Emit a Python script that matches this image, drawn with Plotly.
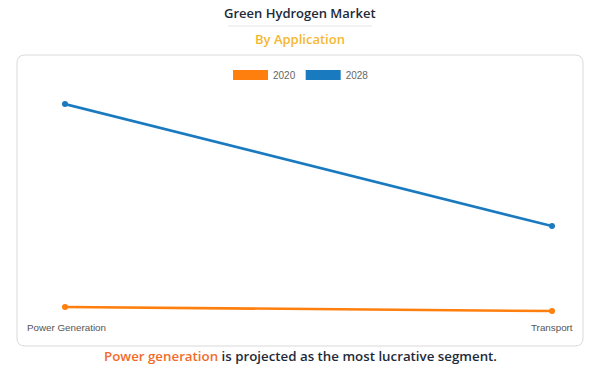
import plotly.graph_objects as go

categories = ["Power Generation", "Transport"]
series_names = ["2020", "2028"]
values_2020 = [3.1, 2.2]
values_2028 = [48, 21]
colors = ["#ff7f0e", "#1a7abf"]

W, H = 600, 373
L, R, T, B = 65, 48, 90, 52
pw, ph = W - L - R, H - T - B

def px(xp):
    return (xp - L) / pw

def py(yp):
    return (H - B - yp) / ph

fig = go.Figure()
for name, vals, col in [(series_names[0], values_2020, colors[0]), (series_names[1], values_2028, colors[1])]:
    fig.add_trace(go.Scatter(x=categories, y=vals, mode="lines+markers", name=name,
                             line=dict(color=col, width=2.6), marker=dict(size=6, color=col),
                             showlegend=False, cliponaxis=False, hoverinfo="x+y+name"))
    fig.add_trace(go.Scatter(x=[None], y=[None], mode="lines", name=name,
                             line=dict(color=col, width=11), showlegend=True))

# rounded card
x0, x1, y0, y1 = px(17), px(583), py(346), py(55)
rx, ry = 8 / pw, 8 / ph
path = (f"M {x0+rx},{y0} L {x1-rx},{y0} Q {x1},{y0} {x1},{y0+ry} L {x1},{y1-ry} "
        f"Q {x1},{y1} {x1-rx},{y1} L {x0+rx},{y1} Q {x0},{y1} {x0},{y1-ry} "
        f"L {x0},{y0+ry} Q {x0},{y0} {x0+rx},{y0} Z")
fig.add_shape(type="path", path=path, xref="paper", yref="paper",
              line=dict(color="#d9d9d9", width=1), fillcolor="rgba(0,0,0,0)", layer="below")
# title separator
fig.add_shape(type="line", xref="paper", yref="paper", x0=px(228), x1=px(372), y0=py(26), y1=py(26),
              line=dict(color="#e6e6e6", width=1))

fig.add_annotation(text="Green Hydrogen Market", xref="paper", yref="paper", x=px(300), y=py(13),
                   showarrow=False, font=dict(family="Open Sans", size=13, weight=600, color="#1d2a3a"),
                   xanchor="center", yanchor="middle")
fig.add_annotation(text="By Application", xref="paper", yref="paper", x=px(300), y=py(39),
                   showarrow=False, font=dict(family="Open Sans", size=13, weight=600, color="#f5b731"),
                   xanchor="center", yanchor="middle")
fig.add_annotation(text="<span style='color:#f26b2a'>Power generation</span> is projected as the most lucrative segment.",
                   xref="paper", yref="paper", x=px(300), y=py(356), showarrow=False,
                   font=dict(family="Open Sans", size=13.3, weight=600, color="#1d2a3a"),
                   xanchor="center", yanchor="middle")
# category labels
fig.add_annotation(text=categories[0], xref="x", yref="paper", x=categories[0], y=py(327),
                   xanchor="left", yanchor="middle", xshift=-40, showarrow=False,
                   font=dict(family="Liberation Sans", size=9.8, color="#555555"))
fig.add_annotation(text=categories[1], xref="x", yref="paper", x=categories[1], y=py(327),
                   xanchor="right", yanchor="middle", xshift=23, showarrow=False,
                   font=dict(family="Liberation Sans", size=9.8, color="#555555"))

fig.update_layout(
    width=W, height=H,
    margin=dict(l=L, r=R, t=T, b=B),
    paper_bgcolor="white", plot_bgcolor="white",
    xaxis=dict(type="category", range=[0, 1], showgrid=False, zeroline=False, showline=False,
               showticklabels=False, ticks=""),
    yaxis=dict(range=[0, (H - B - T) / 4.52], showgrid=False, zeroline=False, showline=False,
               showticklabels=False, ticks=""),
    legend=dict(orientation="h", x=px(301), xref="paper", xanchor="center", y=py(75), yanchor="middle",
                font=dict(family="Liberation Sans", size=10, color="#666666"),
                itemwidth=35, bgcolor="rgba(0,0,0,0)", tracegroupgap=0),
    showlegend=True,
)

fig.write_html("out.html", config={"displayModeBar": False},
               post_script="document.body.style.margin='0';")
